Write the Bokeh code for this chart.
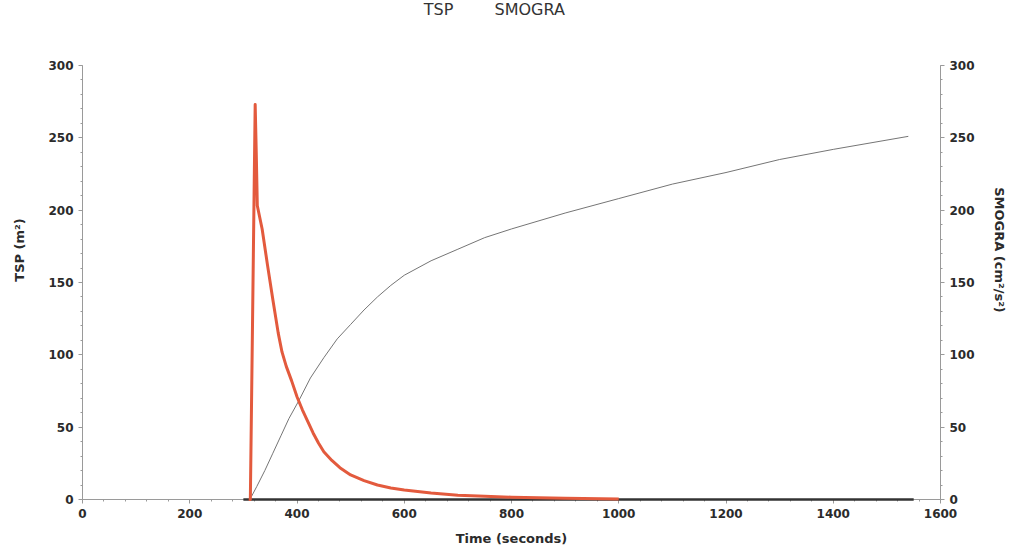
from bokeh.plotting import figure
from bokeh.models import LinearAxis, Range1d, SingleIntervalTicker, Label
from bokeh.embed import file_html
from bokeh.resources import INLINE

# TSP (m2)
tsp_t = [310, 313, 317, 322, 324, 326, 335, 345, 355, 365, 372, 380, 390, 400, 410,
         420, 430, 440, 450, 465, 480, 500, 525, 550, 575, 600, 650, 700, 750, 800,
         900, 1000]
tsp = [0, 0, 120, 273, 240, 203, 187, 162, 138, 115, 102, 92, 82, 71, 62,
       54, 46, 39, 33, 27, 22, 17, 13, 10, 8, 6.5, 4.5, 3, 2.2, 1.6,
       0.8, 0.3]

# flat TSP tail along zero
tail_t = [300, 1550]
tail = [0, 0]

# SMOGRA (cm2/s2)
smogra_t = [315, 325, 340, 355, 370, 385, 403, 425, 450, 475, 500, 525, 550, 575,
            600, 650, 700, 750, 800, 900, 1000, 1100, 1200, 1300, 1400, 1540]
smogra = [2, 9, 20, 32, 44, 56, 68, 84, 98, 111, 121, 131, 140, 148,
          155, 165, 173, 181, 187, 198, 208, 218, 226, 235, 242, 251]

legend_names = ["TSP", "SMOGRA"]
legend_x = [664, 834]

font = "DejaVu Sans"
text_col = "#2b2b2b"
axis_col = "#9a9a9a"

# frame runs above 300 so that the legend texts can sit inside it
y_top = 344.9

p = figure(frame_width=858, frame_height=499, x_range=Range1d(0, 1600), y_range=Range1d(0, y_top),
           output_backend="svg", toolbar_location=None,
           min_border_left=82, min_border_right=67, min_border_top=0, min_border_bottom=45)
p.extra_y_ranges = {"smogra": Range1d(0, y_top)}
p.outline_line_color = None
p.xgrid.visible = False
p.ygrid.visible = False

right = LinearAxis(y_range_name="smogra")
p.add_layout(right, "right")

p.xaxis.ticker = SingleIntervalTicker(interval=200, num_minor_ticks=5)
p.yaxis.ticker = SingleIntervalTicker(interval=50, num_minor_ticks=5)
p.yaxis.bounds = (0, 300)
p.xaxis.axis_label = "Time (seconds)"
p.yaxis[0].axis_label = "TSP (m²)"
right.axis_label = "SMOGRA (cm²/s²)"

for ax in [p.xaxis[0], p.yaxis[0], right]:
    ax.axis_line_color = axis_col
    ax.major_tick_line_color = axis_col
    ax.minor_tick_line_color = axis_col
    ax.major_tick_out = 4
    ax.major_tick_in = 0
    ax.minor_tick_out = 2
    ax.minor_tick_in = 0
    ax.major_label_text_font = font
    ax.major_label_text_font_style = "bold"
    ax.major_label_text_font_size = "12px"
    ax.major_label_text_color = text_col
    ax.axis_label_text_font = font
    ax.axis_label_text_font_style = "bold"
    ax.axis_label_text_font_size = "13px"
    ax.axis_label_text_color = text_col
    ax.major_label_standoff = 5

p.xaxis.axis_label_standoff = 10
p.yaxis[0].axis_label_standoff = 18
right.axis_label_standoff = 14

# drawn above the axis line so the dark zero trace shows
p.line(tail_t, tail, line_color="#333333", line_width=2.5, level="overlay")
p.line(smogra_t, smogra, line_color="#757575", line_width=1, y_range_name="smogra")
p.line(tsp_t, tsp, line_color="#e35a3d", line_width=3, line_join="round", level="overlay")

# legend texts above the plot
for name, xpos in zip(legend_names, legend_x):
    p.add_layout(Label(x=xpos, y=339, text=name, text_font=font, text_font_size="16px",
                       text_color="#333333", text_align="center", text_baseline="middle"))

open("out.html", "w").write(file_html(p, INLINE))
